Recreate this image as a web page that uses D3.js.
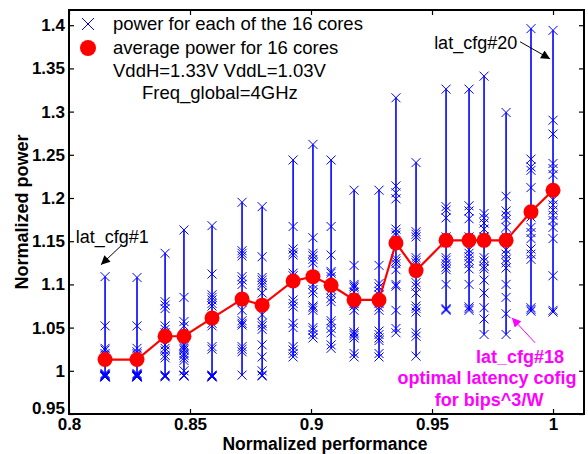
<!DOCTYPE html>
<html>
<head>
<meta charset="utf-8">
<script src="https://cdn.jsdelivr.net/npm/d3@7"></script>
<style>
  body { margin: 0; background: #fff; }
  text { font-family: "Liberation Sans", Arial, Helvetica, sans-serif; }
</style>
</head>
<body>
<div id="my_dataviz"></div>
<script>
// normalized performance of each latency config (x position of each column)
var perf = [0.8149, 0.8281, 0.8397, 0.8475, 0.8591, 0.8715, 0.8798, 0.8926, 0.9008, 0.9083,
            0.9178, 0.9281, 0.9351, 0.9434, 0.9558, 0.9653, 0.9715, 0.9806, 0.9909, 1.0];

// average power over the 16 cores
var avgPower = [1.013, 1.013, 1.040, 1.040, 1.061, 1.083, 1.076, 1.104, 1.109, 1.099,
                1.082, 1.082, 1.148, 1.116, 1.151, 1.151, 1.151, 1.151, 1.184, 1.209];

// power of each of the 16 cores, one row per config
var corePower = [
  [1.109,1.052,1.026,1.024,1.020,1.018,0.997,0.996,0.995,0.995,0.994,0.994,0.994,0.993,0.993,0.993],
  [1.108,1.052,1.026,1.022,1.020,1.018,0.997,0.996,0.995,0.995,0.994,0.994,0.994,0.993,0.993,0.993],
  [1.136,1.080,1.076,1.072,1.052,1.048,1.044,1.040,1.030,1.026,1.023,1.018,1.015,0.995,0.994,0.993],
  [1.163,1.085,1.057,1.052,1.030,1.028,1.026,1.024,1.020,1.018,1.015,1.012,1.000,0.995,0.994,0.994],
  [1.168,1.112,1.088,1.085,1.082,1.078,1.075,1.055,1.052,1.028,1.025,0.995,0.994,0.994,0.993,0.993],
  [1.195,1.139,1.136,1.133,1.109,1.105,1.100,1.080,1.070,1.058,1.055,1.053,1.028,1.025,1.022,0.995],
  [1.190,1.132,1.108,1.105,1.102,1.099,1.090,1.065,1.055,1.052,1.048,1.030,1.016,1.000,0.995,0.994],
  [1.244,1.167,1.141,1.137,1.134,1.113,1.110,1.082,1.078,1.074,1.055,1.050,1.028,1.024,1.020,1.016],
  [1.262,1.154,1.136,1.133,1.129,1.125,1.100,1.094,1.090,1.075,1.073,1.070,1.050,1.047,1.042,1.038],
  [1.244,1.167,1.134,1.115,1.113,1.109,1.094,1.090,1.084,1.080,1.058,1.055,1.049,1.044,1.030,1.026],
  [1.209,1.122,1.100,1.098,1.096,1.091,1.085,1.078,1.075,1.070,1.045,1.043,1.041,1.038,1.020,1.016],
  [1.209,1.122,1.101,1.097,1.092,1.088,1.082,1.078,1.074,1.070,1.046,1.042,1.038,1.035,1.020,1.016],
  [1.316,1.214,1.206,1.199,1.164,1.160,1.157,1.130,1.127,1.124,1.117,1.100,1.098,1.070,1.049,1.044],
  [1.241,1.161,1.158,1.155,1.131,1.128,1.125,1.102,1.098,1.090,1.075,1.072,1.068,1.044,1.040,1.017],
  [1.326,1.190,1.186,1.177,1.155,1.150,1.148,1.131,1.128,1.124,1.120,1.117,1.100,1.072,1.071,1.070],
  [1.326,1.191,1.185,1.176,1.155,1.150,1.140,1.136,1.132,1.128,1.124,1.118,1.100,1.074,1.072,1.070],
  [1.341,1.182,1.177,1.171,1.164,1.155,1.150,1.131,1.127,1.121,1.118,1.105,1.090,1.073,1.060,1.042],
  [1.299,1.202,1.185,1.180,1.175,1.166,1.155,1.140,1.135,1.129,1.125,1.119,1.100,1.085,1.066,1.042],
  [1.396,1.245,1.236,1.232,1.212,1.182,1.178,1.166,1.160,1.153,1.141,1.135,1.129,1.073,1.071,1.069],
  [1.394,1.290,1.274,1.240,1.234,1.227,1.198,1.192,1.186,1.180,1.174,1.166,1.153,1.110,1.070,1.068]
];

// axis ticks
var xTicks = [0.8, 0.85, 0.9, 0.95, 1];
var xTickLabels = ["0.8", "0.85", "0.9", "0.95", "1"];
var yTicks = [0.95, 1, 1.05, 1.1, 1.15, 1.2, 1.25, 1.3, 1.35, 1.4];
var yTickLabels = ["0.95", "1", "1.05", "1.1", "1.15", "1.2", "1.25", "1.3", "1.35", "1.4"];

var legendLabels = ["power for each of the 16 cores", "average power for 16 cores"];
var noteLines = ["VddH=1.33V VddL=1.03V", "Freq_global=4GHz"];

// set the dimensions and margins of the graph
var margin = {top: 10, right: 4, bottom: 40, left: 69},
  width = 588 - margin.left - margin.right,
  height = 454 - margin.top - margin.bottom;

var svg = d3.select("#my_dataviz")
.append("svg")
  .attr("width", width + margin.left + margin.right)
  .attr("height", height + margin.top + margin.bottom)
.append("g")
  .attr("transform", "translate(" + margin.left + "," + margin.top + ")");

var x = d3.scaleLinear()
  .domain([0.8, 1.0128])
  .range([0, width]);

var y = d3.scaleLinear()
  .domain([0.95, 1.4176])
  .range([height, 0]);

// axes, MATLAB style: ticks pointing inside, on all four sides
svg.append("g")
  .attr("transform", "translate(0," + height + ")")
  .call(d3.axisBottom(x).tickValues(xTicks).tickSizeInner(-5).tickSizeOuter(0).tickPadding(4)
    .tickFormat(function(d, i) { return xTickLabels[i]; }));

var yAxis = svg.append("g")
  .call(d3.axisLeft(y).tickValues(yTicks).tickSizeInner(-5).tickSizeOuter(0).tickPadding(4)
    .tickFormat(function(d, i) { return yTickLabels[i]; }));

svg.append("g")
  .call(d3.axisTop(x).tickValues(xTicks).tickSizeInner(-5).tickSizeOuter(0).tickFormat(""));
svg.append("g")
  .attr("transform", "translate(" + width + ",0)")
  .call(d3.axisRight(y).tickValues(yTicks).tickSizeInner(-5).tickSizeOuter(0).tickFormat(""));

svg.selectAll(".domain").remove();
svg.selectAll(".tick line").attr("stroke", "black").attr("stroke-width", 1.2);
svg.selectAll(".tick text")
  .style("font-size", "17px")
  .style("font-weight", "bold")
  .attr("fill", "black");

// lift the bottom y label a little so it clears the 0.8 label
yAxis.selectAll(".tick text").filter(function(d) { return d === 0.95; })
  .attr("dy", "-0.05em");

// vertical spread lines, one per config
var cols = perf.map(function(p, i) { return {x: p, vals: corePower[i], avg: avgPower[i]}; });

svg.selectAll(".stem")
  .data(cols)
  .enter()
  .append("line")
    .attr("class", "stem")
    .attr("x1", function(d) { return x(d.x); })
    .attr("x2", function(d) { return x(d.x); })
    .attr("y1", function(d) { return y(d3.min(d.vals)); })
    .attr("y2", function(d) { return y(d3.max(d.vals)); })
    .attr("stroke", "#0000ff")
    .attr("stroke-width", 1.6);

// one cross per core
var crossPath = "M-4.5,-4.5L4.5,4.5M-4.5,4.5L4.5,-4.5";
var points = [];
cols.forEach(function(c) { c.vals.forEach(function(v) { points.push({x: c.x, v: v}); }); });

svg.selectAll(".cross")
  .data(points)
  .enter()
  .append("path")
    .attr("class", "cross")
    .attr("d", crossPath)
    .attr("transform", function(d) { return "translate(" + x(d.x) + "," + y(d.v) + ")"; })
    .attr("fill", "none")
    .attr("stroke", "#0000ff")
    .attr("stroke-width", 1);

// average line and dots
svg.append("path")
  .datum(cols)
  .attr("fill", "none")
  .attr("stroke", "#ff0000")
  .attr("stroke-width", 2.2)
  .attr("d", d3.line().x(function(d) { return x(d.x); }).y(function(d) { return y(d.avg); }));

svg.selectAll(".avg")
  .data(cols)
  .enter()
  .append("circle")
    .attr("cx", function(d) { return x(d.x); })
    .attr("cy", function(d) { return y(d.avg); })
    .attr("r", 7.5)
    .attr("fill", "#ff0000");

// box
svg.append("rect")
  .attr("width", width)
  .attr("height", height)
  .attr("fill", "none")
  .attr("stroke", "black")
  .attr("stroke-width", 2);

// axis titles
svg.append("text")
  .attr("x", 325 - margin.left)
  .attr("y", height + 36)
  .attr("text-anchor", "middle")
  .style("font-size", "17.5px")
  .style("font-weight", "bold")
  .text("Normalized performance");

svg.append("text")
  .attr("transform", "translate(" + (28 - margin.left) + "," + (height / 2) + ") rotate(-90)")
  .attr("text-anchor", "middle")
  .style("font-size", "18px")
  .style("font-weight", "bold")
  .text("Normalized power");

// legend
var legend = svg.append("g").attr("transform", "translate(19,14)");
legend.append("path")
  .attr("d", "M-6,-6L6,6M-6,6L6,-6")
  .attr("stroke", "#0000ff")
  .attr("stroke-width", 1);
legend.append("circle")
  .attr("cy", 24)
  .attr("r", 8)
  .attr("fill", "#ff0000");
legend.selectAll(".leg")
  .data(legendLabels)
  .enter()
  .append("text")
    .attr("x", 25)
    .attr("y", function(d, i) { return i * 24; })
    .attr("dy", "0.35em")
    .style("font-size", "18.5px")
    .text(function(d) { return d; });
legend.selectAll(".note")
  .data(noteLines)
  .enter()
  .append("text")
    .attr("x", function(d, i) { return i == 0 ? 25 : 54; })
    .attr("y", function(d, i) { return 47 + i * 22; })
    .attr("dy", "0.35em")
    .style("font-size", "18.5px")
    .text(function(d) { return d; });

// annotations
var defs = svg.append("defs");
function marker(id, color) {
  defs.append("marker")
    .attr("id", id)
    .attr("viewBox", "0 0 10 10")
    .attr("refX", 10).attr("refY", 5)
    .attr("markerWidth", 12).attr("markerHeight", 9)
    .attr("markerUnits", "userSpaceOnUse")
    .attr("orient", "auto")
  .append("path")
    .attr("d", "M0,0L10,5L0,10z")
    .attr("fill", color);
}
marker("headBlack", "black");
marker("headMagenta", "#ff00ff");

function arrow(x1, y1, x2, y2, color, head) {
  svg.append("line")
    .attr("x1", x(x1)).attr("y1", y(y1))
    .attr("x2", x(x2)).attr("y2", y(y2))
    .attr("stroke", color)
    .attr("stroke-width", 1)
    .attr("marker-end", "url(#" + head + ")");
}

svg.append("text")
  .attr("x", x(0.8028))
  .attr("y", y(1.155))
  .attr("dy", "0.35em")
  .style("font-size", "18px")
  .text("lat_cfg#1");
arrow(0.8215, 1.1447, 0.8132, 1.1227, "black", "headBlack");

svg.append("text")
  .attr("x", x(0.9852))
  .attr("y", y(1.3796))
  .attr("dy", "0.35em")
  .attr("text-anchor", "end")
  .style("font-size", "18px")
  .text("lat_cfg#20");
arrow(0.9864, 1.3808, 0.9988, 1.361, "black", "headBlack");

var magentaLines = [
  {t: "lat_cfg#18", x: 0.9864, v: 1.0162},
  {t: "optimal latency cofig", x: 0.9727, v: 0.9919},
  {t: "for bips^3/W", x: 0.9736, v: 0.9664}
];
svg.selectAll(".mag")
  .data(magentaLines)
  .enter()
  .append("text")
    .attr("x", function(d) { return x(d.x); })
    .attr("y", function(d) { return y(d.v); })
    .attr("dy", "0.35em")
    .attr("text-anchor", "middle")
    .attr("fill", "#ff00ff")
    .style("font-size", "18px")
    .style("font-weight", "bold")
    .text(function(d) { return d.t; });
arrow(0.9926, 1.0324, 0.983, 1.0613, "#ff00ff", "headMagenta");
</script>
</body>
</html>
